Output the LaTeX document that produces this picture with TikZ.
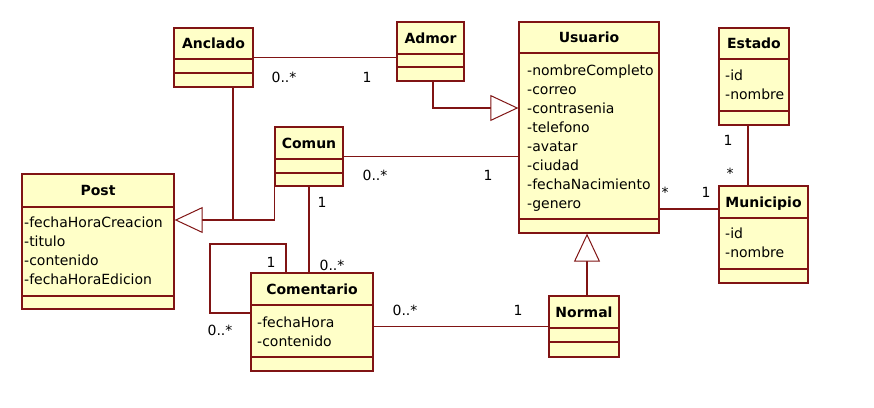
\documentclass[tikz,border=0pt]{standalone}
\usepackage{fontspec}
\setmainfont{DejaVu Sans}
\usetikzlibrary{arrows.meta,fit}
\definecolor{umlfill}{RGB}{255,255,200}
\definecolor{umlline}{RGB}{128,20,20}
\tikzset{
  clsbox/.style={draw=umlline, fill=umlfill, line width=1.3pt, inner sep=0pt},
  sepline/.style={draw=umlline, line width=1.3pt},
  ttl/.style={font=\fontsize{14}{16}\selectfont\bfseries, anchor=base, inner sep=0pt},
  attr/.style={font=\fontsize{14}{16}\selectfont, anchor=base west, inner sep=0pt},
  mult/.style={font=\fontsize{14}{16}\selectfont, anchor=base, inner sep=0pt},
  assoc/.style={draw=umlline, line width=1.4pt},
  gen/.style={assoc, -{Triangle[length=28pt,width=26pt,fill=white,line width=1pt]}},
}
\newcommand\umlclass[8]{%
  \node[clsbox, fit={(#2,#3)(#4,#5)}] (#1) {};
  \draw[sepline] (#2,#6) -- (#4,#6);
  \draw[sepline] (#2,#7) -- (#4,#7);
  \node[ttl] (#1-title) at ({(#2+#4)/2},{(#3+#6)/2+5}) {#8};
}
\newcommand\umlattrs[4]{%
  \foreach \t [count=\i] in {#4} \node[attr] (#1-a\i) at (#2,{#3+19*(\i-1)}) {\t};
}
\begin{document}
\begin{tikzpicture}[x=1pt,y=-1pt]
\useasboundingbox (0,0) rectangle (874,407);
% classes
\umlclass{anclado}{174}{28}{253}{87}{59}{73}{Anclado}
\umlclass{admor}{397}{22}{464}{81}{54}{67}{Admor}
\umlclass{usuario}{519}{22}{659}{233}{53}{219}{Usuario}
\umlattrs{usuario}{527}{75}{-nombreCompleto,-correo,-contrasenia,-telefono,-avatar,-ciudad,-fechaNacimiento,-genero}
\umlclass{estado}{719}{28}{789}{125}{59}{111}{Estado}
\umlattrs{estado}{725}{80}{-id,-nombre}
\umlclass{municipio}{719}{186}{808}{283}{218}{269}{Municipio}
\umlattrs{municipio}{725}{238}{-id,-nombre}
\umlclass{post}{22}{174}{174}{309}{207}{296}{Post}
\umlattrs{post}{24}{227}{-fechaHoraCreacion,-titulo,-contenido,-fechaHoraEdicion}
\umlclass{comun}{275}{127}{343}{186}{159}{173}{Comun}
\umlclass{comentario}{251}{273}{373}{371}{305}{357}{Comentario}
\umlattrs{comentario}{257}{327}{-fechaHora,-contenido}
\umlclass{normal}{549}{296}{619}{357}{328}{342}{Normal}
% connectors
\coordinate (postjoin) at (233,220);
\coordinate (loopa) at (286,244);
\coordinate (loopb) at (210,313);
\coordinate (munjoin) at (659,209);
\coordinate (estx) at (748,0);
\draw[assoc] (anclado.east) -- (anclado.east -| admor.west);
\draw[gen] (admor.south -| 433,0) |- (usuario.west |- 0,108);
\draw[assoc] (comun.east) -- (comun.east -| usuario.west);
\draw[gen] (comun.south west) |- (post.east |- postjoin);
\draw[assoc] (anclado.south -| postjoin) -- (postjoin);
\draw[assoc] (comun.south) -- (comun.south |- comentario.north);
\draw[assoc] (comentario.north -| loopa) |- (loopb |- loopa) |- (comentario.west |- loopb);
\draw[assoc] (normal.west -| comentario.east) -- (normal.west);
\draw[gen] ([xshift=3pt]normal.north) -- ([xshift=3pt]normal.north |- usuario.south);
\draw[assoc] (munjoin) -- (municipio.west |- munjoin);
\draw[assoc] (estado.south -| estx) -- (municipio.north -| estx);
% multiplicities
\node[mult] (m1) at (284,82) {0..*};
\node[mult] (m2) at (367,82) {1};
\node[mult] (m3) at (375,180) {0..*};
\node[mult] (m4) at (488,180) {1};
\node[mult] (m5) at (665,197) {*};
\node[mult] (m6) at (706,197) {1};
\node[mult] (m7) at (728,145) {1};
\node[mult] (m8) at (730,178) {*};
\node[mult] (m9) at (322,207) {1};
\node[mult] (m10) at (332,270) {0..*};
\node[mult] (m11) at (271,267) {1};
\node[mult] (m12) at (220,335) {0..*};
\node[mult] (m13) at (405,315) {0..*};
\node[mult] (m14) at (518,315) {1};
\end{tikzpicture}
\end{document}
